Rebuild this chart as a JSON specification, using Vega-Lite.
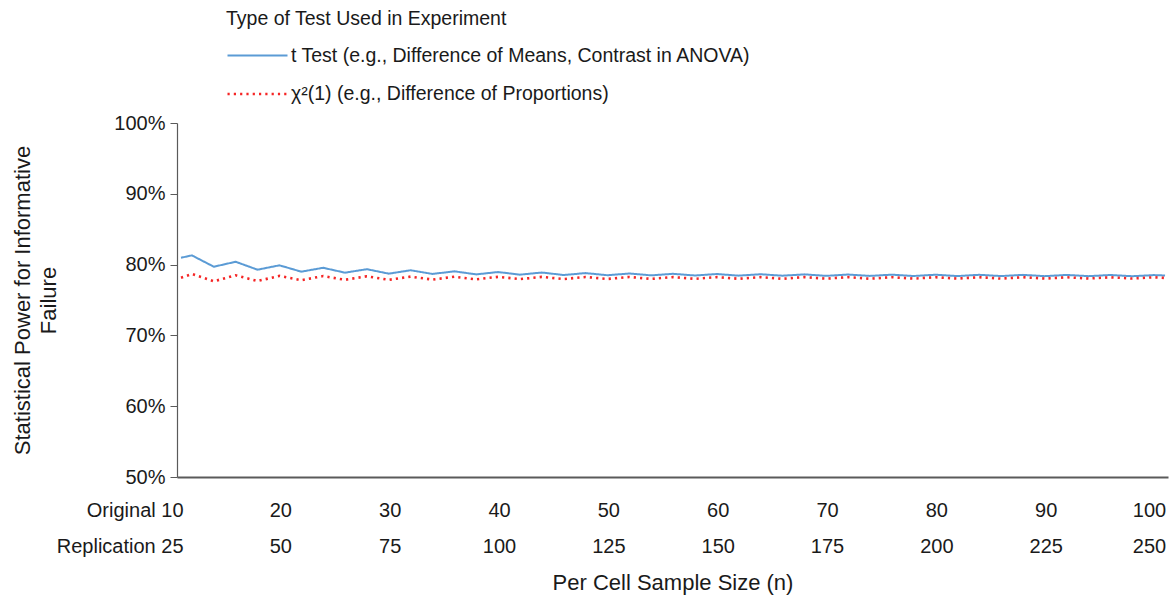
{
  "$schema": "https://vega.github.io/schema/vega-lite/v6.json",
  "width": 991,
  "height": 354,
  "autosize": {"type": "none"},
  "padding": {"left": 177, "top": 123, "right": 2, "bottom": 126},
  "background": "white",
  "config": {
    "font": "Liberation Sans",
    "view": {"stroke": null},
    "axis": {"labelColor": "#1a1a1a", "titleColor": "#1a1a1a", "titleFontWeight": "normal", "grid": false},
    "legend": {
      "orient": "none",
      "legendX": 49,
      "legendY": -113,
      "titleFontSize": 19.5,
      "titleFontWeight": "normal",
      "titleColor": "#1a1a1a",
      "titleLimit": 800,
      "titlePadding": 15,
      "labelFontSize": 19.5,
      "labelColor": "#1a1a1a",
      "labelLimit": 800,
      "labelOffset": 42,
      "rowPadding": 17,
      "symbolType": "M-1,0H5",
      "symbolSize": 400,
      "symbolStrokeWidth": 2.2
    }
  },
  "data": {
    "values": [
      {"n": 10, "test": "t", "power": 80.97}, {"n": 11, "test": "t", "power": 81.30}, {"n": 13, "test": "t", "power": 79.70},
      {"n": 15, "test": "t", "power": 80.40}, {"n": 17, "test": "t", "power": 79.28}, {"n": 19, "test": "t", "power": 79.90},
      {"n": 21, "test": "t", "power": 79.00}, {"n": 23, "test": "t", "power": 79.55}, {"n": 25, "test": "t", "power": 78.86},
      {"n": 27, "test": "t", "power": 79.35}, {"n": 29, "test": "t", "power": 78.72}, {"n": 31, "test": "t", "power": 79.20},
      {"n": 33, "test": "t", "power": 78.68}, {"n": 35, "test": "t", "power": 79.05}, {"n": 37, "test": "t", "power": 78.62},
      {"n": 39, "test": "t", "power": 78.95}, {"n": 41, "test": "t", "power": 78.58}, {"n": 43, "test": "t", "power": 78.88},
      {"n": 45, "test": "t", "power": 78.53}, {"n": 47, "test": "t", "power": 78.80}, {"n": 49, "test": "t", "power": 78.50},
      {"n": 51, "test": "t", "power": 78.74}, {"n": 53, "test": "t", "power": 78.48}, {"n": 55, "test": "t", "power": 78.70},
      {"n": 57, "test": "t", "power": 78.46}, {"n": 59, "test": "t", "power": 78.67}, {"n": 61, "test": "t", "power": 78.44},
      {"n": 63, "test": "t", "power": 78.64}, {"n": 65, "test": "t", "power": 78.43}, {"n": 67, "test": "t", "power": 78.62},
      {"n": 69, "test": "t", "power": 78.41}, {"n": 71, "test": "t", "power": 78.60}, {"n": 73, "test": "t", "power": 78.40},
      {"n": 75, "test": "t", "power": 78.58}, {"n": 77, "test": "t", "power": 78.39}, {"n": 79, "test": "t", "power": 78.57},
      {"n": 81, "test": "t", "power": 78.38}, {"n": 83, "test": "t", "power": 78.56}, {"n": 85, "test": "t", "power": 78.38},
      {"n": 87, "test": "t", "power": 78.55}, {"n": 89, "test": "t", "power": 78.37}, {"n": 91, "test": "t", "power": 78.54},
      {"n": 93, "test": "t", "power": 78.37}, {"n": 95, "test": "t", "power": 78.53}, {"n": 97, "test": "t", "power": 78.36},
      {"n": 99, "test": "t", "power": 78.52}, {"n": 100, "test": "t", "power": 78.46},
      {"n": 10, "test": "chi2", "power": 78.15}, {"n": 11, "test": "chi2", "power": 78.67}, {"n": 13, "test": "chi2", "power": 77.64},
      {"n": 15, "test": "chi2", "power": 78.49}, {"n": 17, "test": "chi2", "power": 77.68}, {"n": 19, "test": "chi2", "power": 78.40},
      {"n": 21, "test": "chi2", "power": 77.80}, {"n": 23, "test": "chi2", "power": 78.38}, {"n": 25, "test": "chi2", "power": 77.85},
      {"n": 27, "test": "chi2", "power": 78.35}, {"n": 29, "test": "chi2", "power": 77.85}, {"n": 31, "test": "chi2", "power": 78.30},
      {"n": 33, "test": "chi2", "power": 77.88}, {"n": 35, "test": "chi2", "power": 78.29}, {"n": 37, "test": "chi2", "power": 77.92},
      {"n": 39, "test": "chi2", "power": 78.27}, {"n": 41, "test": "chi2", "power": 77.95}, {"n": 43, "test": "chi2", "power": 78.26},
      {"n": 45, "test": "chi2", "power": 77.96}, {"n": 47, "test": "chi2", "power": 78.25}, {"n": 49, "test": "chi2", "power": 77.97},
      {"n": 51, "test": "chi2", "power": 78.25}, {"n": 53, "test": "chi2", "power": 77.98}, {"n": 55, "test": "chi2", "power": 78.24},
      {"n": 57, "test": "chi2", "power": 77.99}, {"n": 59, "test": "chi2", "power": 78.24}, {"n": 61, "test": "chi2", "power": 78.00},
      {"n": 63, "test": "chi2", "power": 78.23}, {"n": 65, "test": "chi2", "power": 78.00}, {"n": 67, "test": "chi2", "power": 78.23},
      {"n": 69, "test": "chi2", "power": 78.01}, {"n": 71, "test": "chi2", "power": 78.23}, {"n": 73, "test": "chi2", "power": 78.01},
      {"n": 75, "test": "chi2", "power": 78.22}, {"n": 77, "test": "chi2", "power": 78.02}, {"n": 79, "test": "chi2", "power": 78.22},
      {"n": 81, "test": "chi2", "power": 78.02}, {"n": 83, "test": "chi2", "power": 78.22}, {"n": 85, "test": "chi2", "power": 78.02},
      {"n": 87, "test": "chi2", "power": 78.22}, {"n": 89, "test": "chi2", "power": 78.03}, {"n": 91, "test": "chi2", "power": 78.21},
      {"n": 93, "test": "chi2", "power": 78.03}, {"n": 95, "test": "chi2", "power": 78.21}, {"n": 97, "test": "chi2", "power": 78.03},
      {"n": 99, "test": "chi2", "power": 78.21}, {"n": 100, "test": "chi2", "power": 78.12}
    ]
  },
  "mark": {"type": "line"},
  "encoding": {
    "x": {
      "field": "n",
      "type": "quantitative",
      "scale": {"domain": [9.634, 100.27], "nice": false, "zero": false},
      "axis": {
        "values": [10, 20, 30, 40, 50, 60, 70, 80, 90, 100],
        "labelExpr": "datum.value == 10 ? ['Original 10', 'Replication 25'] : [format(datum.value, 'd'), format(datum.value * 2.5, 'd')]",
        "ticks": false,
        "tickSize": 0,
        "domainColor": "#5a5a5a",
        "domainWidth": 2,
        "labelFontSize": 20,
        "labelLineHeight": 36,
        "labelPadding": 23,
        "labelBaseline": "top",
        "labelAlign": {"condition": {"test": "datum.value == 10", "value": "right"}, "value": "center"},
        "labelOffset": {"condition": [{"test": "datum.value == 10", "value": 2}, {"test": "datum.value == 100", "value": -16}], "value": -10},
        "labelFlush": false,
        "labelOverlap": false,
        "title": "Per Cell Sample Size (n)",
        "titleFontSize": 22,
        "titleY": 105,
        "titleBaseline": "middle"
      }
    },
    "y": {
      "field": "power",
      "type": "quantitative",
      "scale": {"domain": [50, 100], "nice": false, "zero": false},
      "axis": {
        "values": [50, 60, 70, 80, 90, 100],
        "labelExpr": "datum.value + '%'",
        "labelFontSize": 20,
        "tickSize": 7,
        "tickColor": "#5a5a5a",
        "domainColor": "#5a5a5a",
        "domainWidth": 1.2,
        "labelPadding": 5,
        "title": ["Statistical Power for Informative", "Failure"],
        "titleFontSize": 22,
        "titleLineHeight": 26,
        "titleAngle": -90,
        "titleX": -155,
        "titleY": 177,
        "titleAlign": "center",
        "titleBaseline": "middle"
      }
    },
    "color": {
      "field": "test",
      "type": "nominal",
      "scale": {"domain": ["t", "chi2"], "range": ["#5B9BD5", "#F52525"]},
      "legend": {
        "title": "Type of Test Used in Experiment",
        "labelExpr": "datum.label == 't' ? 't Test (e.g., Difference of Means, Contrast in ANOVA)' : 'χ²(1) (e.g., Difference of Proportions)'"
      }
    },
    "strokeDash": {
      "field": "test",
      "type": "nominal",
      "scale": {"domain": ["t", "chi2"], "range": [[1, 0], [2.2, 4.1]]},
      "legend": {
        "title": "Type of Test Used in Experiment",
        "labelExpr": "datum.label == 't' ? 't Test (e.g., Difference of Means, Contrast in ANOVA)' : 'χ²(1) (e.g., Difference of Proportions)'"
      }
    },
    "strokeWidth": {
      "field": "test",
      "type": "nominal",
      "scale": {"domain": ["t", "chi2"], "range": [2, 2.6]},
      "legend": null
    }
  }
}
